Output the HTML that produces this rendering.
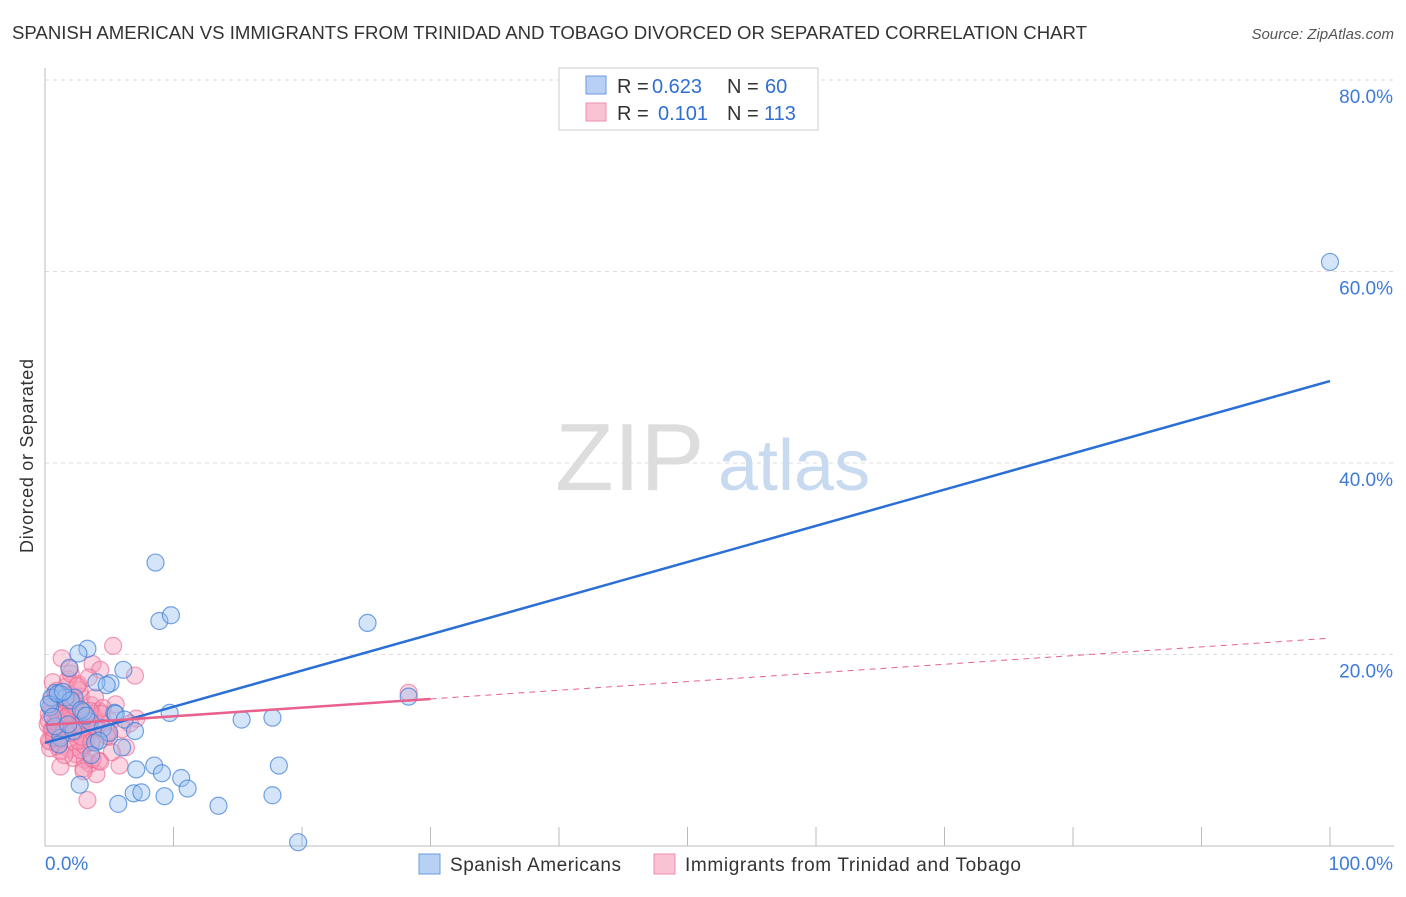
<!DOCTYPE html>
<html><head><meta charset="utf-8"><style>
body{margin:0;background:#fff;font-family:"Liberation Sans",sans-serif;}
svg text{font-family:"Liberation Sans",sans-serif;}
</style></head><body>
<svg id="chart" width="1406" height="892" xmlns="http://www.w3.org/2000/svg">
<text x="12" y="39" font-size="18" fill="#333" textLength="1075" lengthAdjust="spacingAndGlyphs">SPANISH AMERICAN VS IMMIGRANTS FROM TRINIDAD AND TOBAGO DIVORCED OR SEPARATED CORRELATION CHART</text>
<text x="1394" y="39" font-size="15" fill="#555" font-style="italic" text-anchor="end">Source: ZipAtlas.com</text>
<text x="33" y="456" font-size="18" fill="#333" text-anchor="middle" textLength="194" transform="rotate(-90 33 456)">Divorced or Separated</text>
<g id="grid"></g>
<text x="555" y="490" font-size="96" fill="#ddd" font-family="Liberation Serif">ZIP</text>
<text x="718" y="490" font-size="72" fill="#c8daf0">atlas</text>
<g id="pts"></g>
<g id="lines"></g>
<g>
<rect x="559" y="68" width="259" height="62" fill="#fff" stroke="#ccc"/>
<rect x="586" y="76" width="20" height="18" fill="#b7d0f3" stroke="#6a9be0"/>
<rect x="586" y="103" width="20" height="18" fill="#f9c3d3" stroke="#ee8fac"/>
<text x="617" y="93" font-size="20" fill="#333">R =</text>
<text x="652" y="93" font-size="20" fill="#2f6fd4">0.623</text>
<text x="727" y="93" font-size="20" fill="#333">N =</text>
<text x="765" y="93" font-size="20" fill="#2f6fd4">60</text>
<text x="617" y="120" font-size="20" fill="#333">R =</text>
<text x="658" y="120" font-size="20" fill="#2f6fd4">0.101</text>
<text x="727" y="120" font-size="20" fill="#333">N =</text>
<text x="764" y="120" font-size="20" fill="#2f6fd4">113</text>
</g>
<g>
<rect x="419" y="854" width="21" height="20" fill="#b7d0f3" stroke="#6a9be0"/>
<text x="450" y="871" font-size="19" fill="#333" textLength="171">Spanish Americans</text>
<rect x="654" y="854" width="21" height="20" fill="#f9c3d3" stroke="#ee8fac"/>
<text x="685" y="871" font-size="19" fill="#333" textLength="336">Immigrants from Trinidad and Tobago</text>
</g>
</svg>
<script>
const yTicks=[20,40,60,80];
const xTickLabels=["0.0%","100.0%"];
const blueX=[8.6,8.9,9.8,25.1,100,28.3,3.3,2.6,1.9,6.1,5.1,4.0,1.2,2.3,0.8,5.4,15.3,17.7,6.0,3.9,7.1,8.5,9.1,10.6,11.1,6.9,7.5,9.3,13.5,5.7,17.7,18.2,19.7,9.7,5.5,2.7,1.2,0.4,0.5,1.6,3.5,0.3,1.0,2.0,3.0,4.5,5.0,2.2,1.4,0.8,6.2,4.2,3.6,1.8,7.0,2.8,0.6,1.1,4.8,3.2];
const blueY=[29.6,23.5,24.1,23.3,61,15.6,20.6,20.1,18.6,18.4,17.0,17.1,15.9,15.5,16.0,13.9,13.2,13.4,10.3,10.8,8.0,8.4,7.6,7.1,6.0,5.5,5.6,5.2,4.2,4.4,5.3,8.4,0.4,13.9,13.8,6.4,11.3,14.5,15.5,15.5,13.0,14.8,15.9,15.2,14.0,12.3,11.8,12.0,16.1,12.5,13.2,11.0,9.5,12.7,12.0,14.2,13.5,10.6,16.8,13.6];
const pinkX=[5.3,7.0,28.3,3.3,4.0,3.7,4.3,6.3,7.1,0.5,0.8,1.0,1.2,1.5,1.8,2.0,2.3,2.6,3.0,0.3,0.6,0.9,1.3,1.7,2.1,2.5,2.9,3.4,3.8,4.2,4.6,5.0,5.5,6.0,0.4,0.7,1.1,1.4,1.9,2.4,2.8,3.2,3.6,0.2,0.5,0.9,1.2,1.6,2.0,2.4,0.3,0.6,1.0,1.4,1.8,2.2,2.7,3.1,3.5,3.9,0.4,0.8,1.2,1.6,2.1,2.6,3.0,3.5,4.0,4.5,5.1,0.5,1.0,1.5,2.0,2.5,3.0,3.6,4.2,0.3,0.7,1.1,1.6,2.2,2.8,3.4,4.0,4.8,5.8,6.6,1.3,1.9,2.5,3.1,3.7,4.3,4.9,0.6,1.0,1.5,2.0,2.6,3.3,4.0,1.7,2.3,2.9,3.6,4.4,5.2,2.1,2.8,3.5];
const pinkY=[20.9,17.8,16.0,4.8,7.5,19.0,18.4,10.3,13.3,12.0,12.5,13.0,11.5,12.3,13.6,12.8,11.9,12.6,13.1,13.8,14.3,12.1,14.6,11.2,13.9,14.4,12.4,11.7,13.5,14.1,12.9,11.4,14.8,12.2,10.9,11.6,10.6,13.2,10.1,15.1,15.6,10.7,14.7,12.7,15.3,16.2,9.9,16.6,15.8,9.6,11.0,17.1,10.4,14.0,17.4,9.2,16.3,9.0,8.6,15.5,10.2,12.9,8.3,13.4,11.8,16.9,8.1,12.0,11.1,14.4,13.0,14.9,15.9,9.5,18.0,12.4,7.8,10.9,8.9,13.1,11.3,12.6,13.9,14.9,10.0,17.6,12.2,11.5,8.4,12.8,19.6,18.5,16.7,10.5,9.1,8.8,11.9,12.3,13.7,12.1,14.2,11.0,13.3,12.5,13.5,14.6,11.4,10.8,13.8,9.8,15.2,12.7,14.1];
const blueTrend=[10.76,48.56];
const pinkTrend=[12.64,21.7];
const X0=45,X1=1330,Y0=846,PY=9.575;
const sx=v=>X0+(X1-X0)*v/100, sy=v=>Y0-PY*v;
const NS="http://www.w3.org/2000/svg";
function mk(t,a,p){const e=document.createElementNS(NS,t);for(const k in a)e.setAttribute(k,a[k]);p.appendChild(e);return e;}
const grid=document.getElementById('grid');
yTicks.forEach(t=>{
 const l=mk('line',{x1:45,x2:1394,y1:sy(t),y2:sy(t),stroke:'#ddd','stroke-dasharray':'4,4'},grid);
 
 
 const tx=mk('text',{x:1393,y:sy(t)+23,'font-size':19,fill:'#3d7bd9','text-anchor':'end'},grid);
 tx.textContent=t.toFixed(1)+'%';
 
 
});
const ax=mk('line',{x1:45,x2:45,y1:68,y2:846,stroke:'#bbb'},grid);


const bx=mk('line',{x1:45,x2:1394,y1:846,y2:846,stroke:'#bbb'},grid);


for(let i=1;i<=10;i++){const t=mk('line',{x1:sx(i*10),x2:sx(i*10),y1:827,y2:846,stroke:'#bbb'},grid);
 
 }
[[0,'start',45],[100,'end',1393]].forEach((d,i)=>{const t=mk('text',{x:d[2],y:870,'font-size':19,fill:'#3d7bd9','text-anchor':d[1]},grid);t.textContent=xTickLabels[i];
 
 });
const pts=document.getElementById('pts');
pinkX.forEach((x,i)=>{const c=mk('circle',{cx:sx(x),cy:sy(pinkY[i]),r:8.5,fill:'rgba(246,150,182,0.4)',stroke:'rgba(236,105,145,0.65)','stroke-width':1.2},pts);
 
 });
blueX.forEach((x,i)=>{const c=mk('circle',{cx:sx(x),cy:sy(blueY[i]),r:8.5,fill:'rgba(150,190,240,0.4)',stroke:'rgba(60,125,215,0.7)','stroke-width':1.2},pts);
 
 });
const ln=document.getElementById('lines');
const b=mk('line',{x1:sx(0),y1:sy(blueTrend[0]),x2:sx(100),y2:sy(blueTrend[1]),stroke:'#2a6fd6','stroke-width':2.5},ln);


const pm=pinkTrend[0]+(pinkTrend[1]-pinkTrend[0])*0.3;
const p=mk('line',{x1:sx(0),y1:sy(pinkTrend[0]),x2:sx(30),y2:sy(pm),stroke:'#e8608c','stroke-width':2.5},ln);


const pd=mk('line',{x1:sx(30),y1:sy(pm),x2:sx(100),y2:sy(pinkTrend[1]),stroke:'#e8608c','stroke-width':1,'stroke-dasharray':'6,5'},ln);


</script>
</body></html>
